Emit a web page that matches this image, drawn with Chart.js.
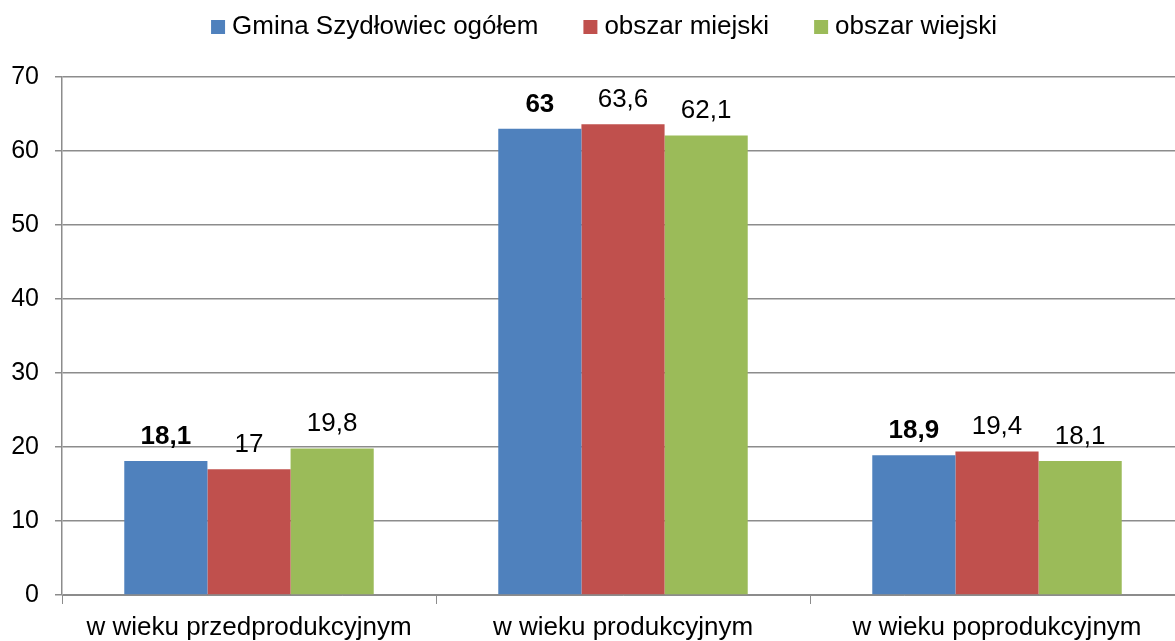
<!DOCTYPE html>
<html>
<head>
<meta charset="utf-8">
<script src="https://cdn.jsdelivr.net/npm/chart.js@4/dist/chart.umd.min.js"></script>
<style>
  html, body { margin: 0; padding: 0; background: #fff; overflow: hidden; }
  /* plot runs a little past the right edge, as in the original */
  #wrap { width: 1184px; height: 641px; }
</style>
</head>
<body>
<div id="wrap"><canvas id="chart"></canvas></div>
<script>
const categories = ["w wieku przedprodukcyjnym", "w wieku produkcyjnym", "w wieku poprodukcyjnym"];
const ogolem = [18.1, 63, 18.9];
const miejski = [17, 63.6, 19.4];
const wiejski = [19.8, 62.1, 18.1];
const seriesNames = ["Gmina Szydłowiec ogółem", "obszar miejski", "obszar wiejski"];
const yTicks = [0, 10, 20, 30, 40, 50, 60, 70];

const FONT = "'Liberation Sans', Arial, sans-serif";
const GRID = "#8c8c8c";

// labels above each bar, comma as decimal separator
const barLabels = {
  id: "barLabels",
  afterDatasetsDraw(chart) {
    const ctx = chart.ctx;
    ctx.save();
    ctx.fillStyle = "#000";
    ctx.textAlign = "center";
    ctx.textBaseline = "alphabetic";
    chart.data.datasets.forEach((ds, i) => {
      const meta = chart.getDatasetMeta(i);
      ctx.font = (i === 0 ? "bold " : "") + "26px " + FONT;
      meta.data.forEach((bar, j) => {
        const txt = String(ds.data[j]).replace(".", ",");
        ctx.fillText(txt, bar.x, bar.y - 17);
      });
    });
    ctx.restore();
  }
};

// fixed legend block height, then nudge it into place
const legendPlace = {
  id: "legendPlace",
  beforeInit(chart) {
    const fit = chart.legend.fit;
    chart.legend.fit = function () {
      fit.bind(chart.legend)();
      this.height = 77;
    };
  },
  afterLayout(chart) {
    const lg = chart.legend;
    lg.left += 15;
    lg.right += 15;
    lg.top -= 37;
  }
};

new Chart(document.getElementById("chart"), {
  type: "bar",
  data: {
    labels: categories,
    datasets: [
      { label: seriesNames[0], data: ogolem, backgroundColor: "#4F81BD" },
      { label: seriesNames[1], data: miejski, backgroundColor: "#C0504D" },
      { label: seriesNames[2], data: wiejski, backgroundColor: "#9BBB59" },
    ],
  },
  options: {
    responsive: true,
    maintainAspectRatio: false,
    animation: false,
    layout: { padding: 0 },
    datasets: { bar: { categoryPercentage: 0.667, barPercentage: 1.0 } },
    plugins: {
      legend: {
        position: "top",
        labels: {
          usePointStyle: true,
          pointStyle: "rect",
          boxWidth: 2,
          boxHeight: 14,
          padding: 51,
          color: "#000",
          font: { family: FONT, size: 26 },
        },
      },
      tooltip: { enabled: false },
    },
    scales: {
      x: {
        grid: {
          offset: true,
          drawOnChartArea: false,
          drawTicks: true,
          tickLength: 9,
          color: GRID,
        },
        border: { display: true, color: GRID },
        ticks: { color: "#000", padding: 8, font: { family: FONT, size: 26 } },
        afterFit: (s) => { s.height = 46; },
      },
      y: {
        min: 0,
        max: 70,
        afterBuildTicks: (s) => { s.ticks = yTicks.map((v) => ({ value: v })); },
        grid: { color: GRID, tickLength: 7, lineWidth: 1.5 },
        border: { display: true, color: GRID, width: 1.5 },
        ticks: { color: "#000", padding: 16, font: { family: FONT, size: 25 } },
        afterFit: (s) => { s.width = 62; },
      },
    },
  },
  plugins: [barLabels, legendPlace],
});
</script>
</body>
</html>
